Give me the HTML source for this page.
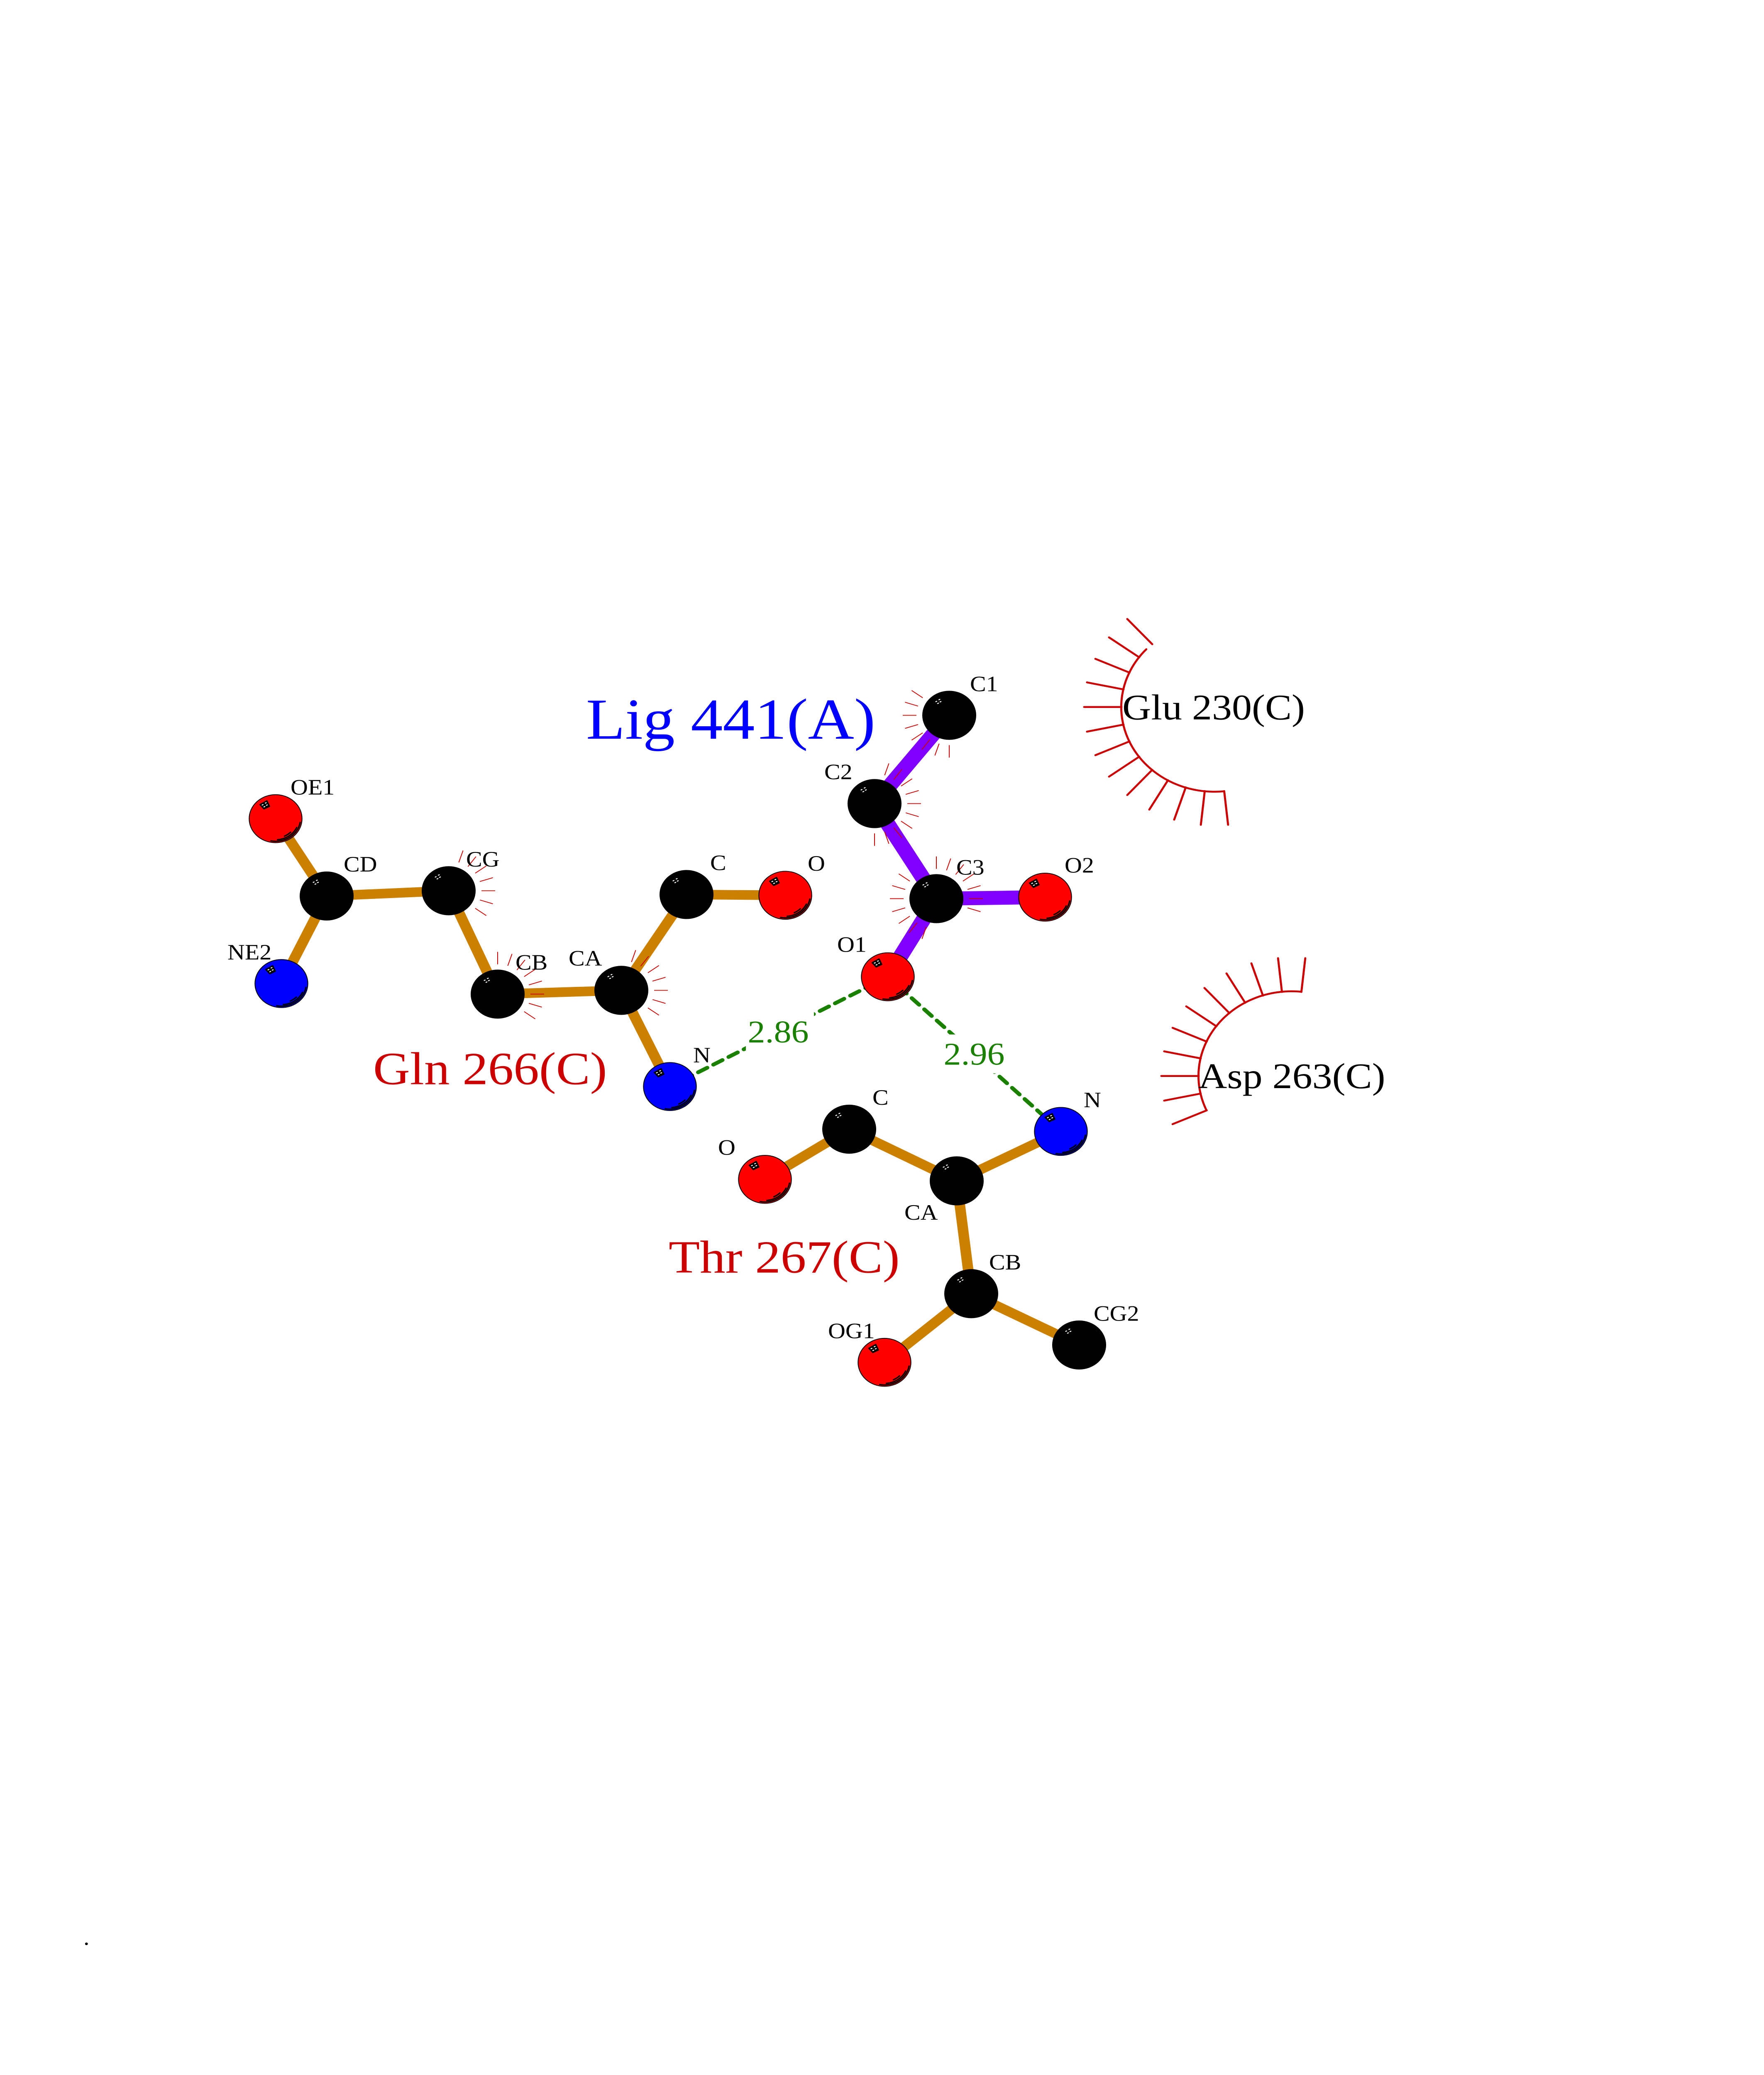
<!DOCTYPE html>
<html lang="en">
<head>
<meta charset="utf-8">
<title>Ligand interaction diagram</title>
<style>
html,body{margin:0;padding:0;background:#fff;width:100%;height:100%;overflow:hidden}
svg{display:block;position:fixed;left:0;top:0;width:100vw;height:100vh}
text{font-family:"Liberation Serif","Times New Roman",serif;white-space:pre}
.s{font-size:58px;fill:#000}
.r{font-size:96px;fill:#000}
.m{font-size:123px;fill:#CC0000}
.g{font-size:84px;fill:#1A8000}
.po{stroke:#CC8000;stroke-width:25.5;fill:none}
.pp{stroke:#8000FF;stroke-width:37;fill:none}
</style>
</head>
<body>
<svg xmlns="http://www.w3.org/2000/svg" viewBox="0 0 4250 5500" preserveAspectRatio="none">
<defs>
<line id="t" x1="79" y1="0" x2="112" y2="0" stroke="#CC0000" stroke-width="2"/>
<line id="h" x1="224" y1="0" x2="314" y2="0" stroke="#CC0000" stroke-width="5" stroke-linecap="round"/>
<g id="d" stroke="#fff" stroke-width="2.5" stroke-linecap="round">
<path d="M-32.3,-36.2L-30.3,-37.2M-24.7,-41.2L-22.7,-42.2M-28,-31.2L-26,-32.2M-22,-35.5L-20,-36.5"/>
</g>
<g id="a">
<path d="M-37.7,-37.3L-21,-47.3L-14.7,-32.7L-28,-26Z" fill="#000" stroke="#000" stroke-width="3" stroke-linejoin="round"/>
<use href="#d"/>
<g fill="none" stroke="#000" stroke-width="3.4" stroke-linecap="round">
<path d="M59.2,10A60,60 0 0 1 -11.4,58.9"/>
<path d="M50.9,23.3A56,56 0 0 1 4.7,55.8"/>
<path d="M36.2,35.9A51,51 0 0 1 21.5,46.2"/>
</g>
</g>
<g id="K"><circle r="65" fill="#000"/><use href="#d"/></g>
<g id="R"><circle r="63.7" fill="#FF0000" stroke="#000" stroke-width="2"/><use href="#a"/></g>
<g id="B"><circle r="63.7" fill="#0000FF" stroke="#000" stroke-width="2"/><use href="#a"/></g>
</defs>

<rect width="4250" height="5500" fill="#fff"/>

<!-- hydrogen bonds -->
<g fill="none" stroke="#1A8000" stroke-width="10" stroke-linecap="round">
<line x1="1614" y1="2880" x2="2139" y2="2589" stroke-dasharray="25 16.9" stroke-dashoffset="6"/>
<line x1="2139" y1="2589" x2="2556" y2="2999" stroke-dasharray="25 17.4" stroke-dashoffset="4"/>
</g>
<rect x="1797" y="2683" width="164" height="103" fill="#fff"/>
<rect x="2269" y="2742" width="164" height="103" fill="#fff"/>

<!-- ligand bonds -->
<g class="pp">
<line class="pp" x1="2287" y1="1896" x2="2107" y2="2130"/>
<line class="pp" x1="2107" y1="2130" x2="2256" y2="2382"/>
<line class="pp" x1="2256" y1="2382" x2="2518" y2="2378"/>
<line class="pp" x1="2256" y1="2382" x2="2139" y2="2589"/>
</g>

<!-- residue bonds -->
<g class="po">
<line class="po" x1="664" y1="2170" x2="787" y2="2375"/>
<line class="po" x1="787" y1="2375" x2="678" y2="2607"/>
<line class="po" x1="787" y1="2375" x2="1081" y2="2361"/>
<line class="po" x1="1081" y1="2361" x2="1199" y2="2635"/>
<line class="po" x1="1199" y1="2635" x2="1497" y2="2625"/>
<line class="po" x1="1497" y1="2625" x2="1654" y2="2371"/>
<line class="po" x1="1654" y1="2371" x2="1892" y2="2373"/>
<line class="po" x1="1497" y1="2625" x2="1614" y2="2880"/>
<line class="po" x1="1843" y1="3126" x2="2046" y2="2993"/>
<line class="po" x1="2046" y1="2993" x2="2305" y2="3130"/>
<line class="po" x1="2305" y1="3130" x2="2556" y2="2999"/>
<line class="po" x1="2305" y1="3130" x2="2340" y2="3429"/>
<line class="po" x1="2340" y1="3429" x2="2131" y2="3611"/>
<line class="po" x1="2340" y1="3429" x2="2600" y2="3565"/>
</g>

<!-- atoms -->
<use href="#K" x="2287" y="1896"/>
<use href="#K" x="2107" y="2130"/>
<use href="#K" x="2256" y="2382"/>
<use href="#R" x="2518" y="2378"/>
<use href="#R" x="2139" y="2589"/>
<use href="#R" x="664" y="2170"/>
<use href="#K" x="787" y="2375"/>
<use href="#B" x="678" y="2607"/>
<use href="#K" x="1081" y="2361"/>
<use href="#K" x="1199" y="2635"/>
<use href="#K" x="1497" y="2625"/>
<use href="#K" x="1654" y="2371"/>
<use href="#R" x="1892" y="2373"/>
<use href="#B" x="1614" y="2880"/>
<use href="#B" x="2556" y="2999"/>
<use href="#K" x="2046" y="2993"/>
<use href="#R" x="1843" y="3126"/>
<use href="#K" x="2305" y="3130"/>
<use href="#K" x="2340" y="3429"/>
<use href="#R" x="2131" y="3611"/>
<use href="#K" x="2600" y="3565"/>

<!-- contact ticks: C1 -->
<g transform="translate(2287,1896)">
<use href="#t" transform="rotate(90)"/><use href="#t" transform="rotate(108)"/><use href="#t" transform="rotate(126)"/><use href="#t" transform="rotate(144)"/><use href="#t" transform="rotate(162)"/><use href="#t" transform="rotate(180)"/><use href="#t" transform="rotate(198)"/><use href="#t" transform="rotate(216)"/>
</g>
<!-- C2 -->
<g transform="translate(2107,2130)">
<use href="#t" transform="rotate(-72)"/><use href="#t" transform="rotate(-54)"/><use href="#t" transform="rotate(-36)"/><use href="#t" transform="rotate(-18)"/><use href="#t" transform="rotate(0)"/><use href="#t" transform="rotate(18)"/><use href="#t" transform="rotate(36)"/><use href="#t" transform="rotate(54)"/><use href="#t" transform="rotate(72)"/><use href="#t" transform="rotate(90)"/>
</g>
<!-- C3 -->
<g transform="translate(2256,2382)">
<use href="#t" transform="rotate(108)"/><use href="#t" transform="rotate(126)"/><use href="#t" transform="rotate(144)"/><use href="#t" transform="rotate(162)"/><use href="#t" transform="rotate(180)"/><use href="#t" transform="rotate(198)"/><use href="#t" transform="rotate(216)"/><use href="#t" transform="rotate(270)"/><use href="#t" transform="rotate(288)"/><use href="#t" transform="rotate(306)"/><use href="#t" transform="rotate(324)"/><use href="#t" transform="rotate(342)"/><use href="#t" transform="rotate(0)"/><use href="#t" transform="rotate(18)"/>
</g>
<!-- CG -->
<g transform="translate(1081,2361)">
<use href="#t" transform="rotate(-72)"/><use href="#t" transform="rotate(-54)"/><use href="#t" transform="rotate(-36)"/><use href="#t" transform="rotate(-18)"/><use href="#t" transform="rotate(0)"/><use href="#t" transform="rotate(18)"/><use href="#t" transform="rotate(36)"/>
</g>
<!-- CB -->
<g transform="translate(1199,2635)">
<use href="#t" transform="rotate(-90)"/><use href="#t" transform="rotate(-72)"/><use href="#t" transform="rotate(-54)"/><use href="#t" transform="rotate(-36)"/><use href="#t" transform="rotate(-18)"/><use href="#t" transform="rotate(0)"/><use href="#t" transform="rotate(18)"/><use href="#t" transform="rotate(36)"/>
</g>
<!-- CA -->
<g transform="translate(1497,2625)">
<use href="#t" transform="rotate(-72)"/><use href="#t" transform="rotate(-54)"/><use href="#t" transform="rotate(-36)"/><use href="#t" transform="rotate(-18)"/><use href="#t" transform="rotate(0)"/><use href="#t" transform="rotate(18)"/><use href="#t" transform="rotate(36)"/>
</g>

<!-- Glu 230 hydrophobic arc -->
<path d="M2949.5,2097.3A224.5,224.5 0 0 1 2761.8,1720.9" fill="none" stroke="#CC0000" stroke-width="5" stroke-linecap="round"/>
<g transform="translate(2926,1874)">
<use href="#h" transform="rotate(84)"/><use href="#h" transform="rotate(96)"/><use href="#h" transform="rotate(108)"/><use href="#h" transform="rotate(120)"/><use href="#h" transform="rotate(132)"/><use href="#h" transform="rotate(144)"/><use href="#h" transform="rotate(156)"/><use href="#h" transform="rotate(168)"/><use href="#h" transform="rotate(180)"/><use href="#h" transform="rotate(192)"/><use href="#h" transform="rotate(204)"/><use href="#h" transform="rotate(216)"/><use href="#h" transform="rotate(228)"/>
</g>

<!-- Asp 263 hydrophobic arc -->
<path d="M2906.9,2943.3A224.5,224.5 0 0 1 3135.5,2628.7" fill="none" stroke="#CC0000" stroke-width="5" stroke-linecap="round"/>
<g transform="translate(3112,2852)">
<use href="#h" transform="rotate(156)"/><use href="#h" transform="rotate(168)"/><use href="#h" transform="rotate(180)"/><use href="#h" transform="rotate(192)"/><use href="#h" transform="rotate(204)"/><use href="#h" transform="rotate(216)"/><use href="#h" transform="rotate(228)"/><use href="#h" transform="rotate(240)"/><use href="#h" transform="rotate(252)"/><use href="#h" transform="rotate(264)"/><use href="#h" transform="rotate(276)"/>
</g>

<!-- atom labels -->
<text class="s" x="2337" y="1832">C1</text>
<text class="s" x="1986" y="2065">C2</text>
<text class="s" x="2304" y="2318">C3</text>
<text class="s" x="2565" y="2313">O2</text>
<text class="s" x="2017" y="2523">O1</text>
<text class="s" x="700" y="2106">OE1</text>
<text class="s" x="828" y="2310">CD</text>
<text class="s" x="1123" y="2297">CG</text>
<text class="s" x="548" y="2543">NE2</text>
<text class="s" x="1242" y="2570">CB</text>
<text class="s" x="1370" y="2559">CA</text>
<text class="s" x="1711" y="2306">C</text>
<text class="s" x="1946" y="2308">O</text>
<text class="s" x="1670" y="2816">N</text>
<text class="s" x="2611" y="2935">N</text>
<text class="s" x="2102" y="2928">C</text>
<text class="s" x="1730" y="3061">O</text>
<text class="s" x="2179" y="3233">CA</text>
<text class="s" x="2383" y="3365">CB</text>
<text class="s" x="2635" y="3501">CG2</text>
<text class="s" x="1995" y="3547">OG1</text>

<!-- distances -->
<text class="g" x="1801.5" y="2763">2.86</text>
<text class="g" x="2273.5" y="2822">2.96</text>

<!-- residue labels -->
<text x="1412" y="1958" font-size="154" fill="#0000FF">Lig 441(A)</text>
<text class="m" x="899" y="2874">Gln 266(C)</text>
<text class="m" x="1611" y="3373">Thr 267(C)</text>
<text class="r" x="2704" y="1907">Glu 230(C)</text>
<text class="r" x="2887" y="2884">Asp 263(C)</text>

<text class="s" x="201" y="5155">.</text>
</svg>
</body>
</html>
